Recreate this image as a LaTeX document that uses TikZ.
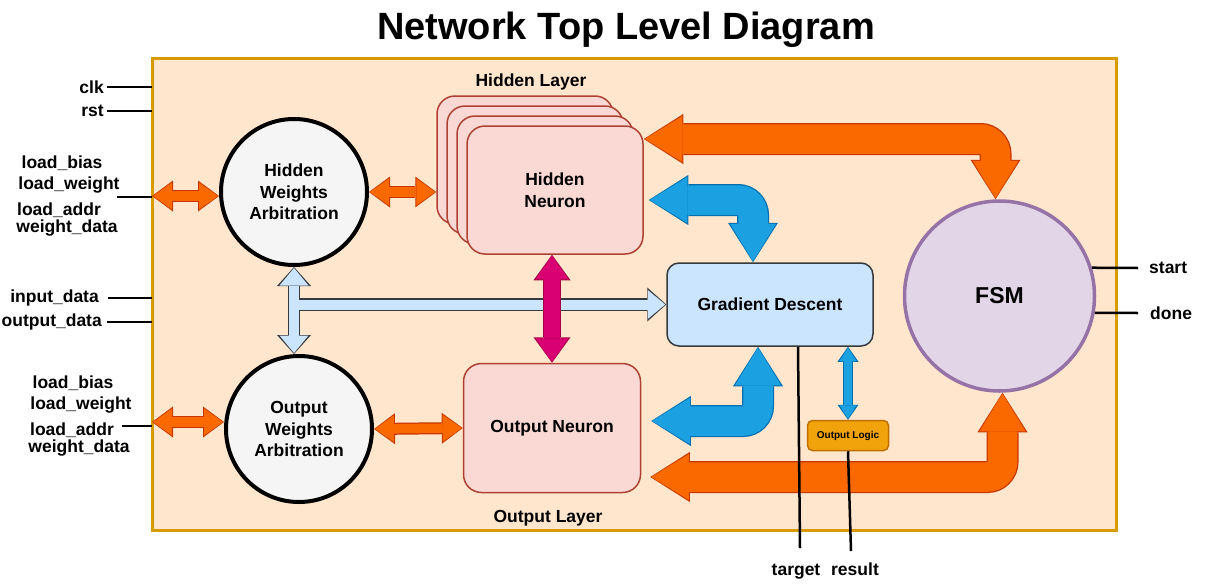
\documentclass[tikz,border=0pt]{standalone}
\usepackage{fontspec}
\setmainfont{Liberation Sans}
\usetikzlibrary{arrows.meta}

\definecolor{boxFill}{HTML}{FFE6CC}
\definecolor{boxLine}{HTML}{D79B00}
\definecolor{arbFill}{HTML}{F5F5F5}
\definecolor{neuFill}{HTML}{FAD9D5}
\definecolor{neuLine}{HTML}{AE4132}
\definecolor{gdFill}{HTML}{CCE5FF}
\definecolor{gdLine}{HTML}{36393D}
\definecolor{fsmFill}{HTML}{E1D5E7}
\definecolor{fsmLine}{HTML}{9673A6}
\definecolor{logFill}{HTML}{F0A30A}
\definecolor{logLine}{HTML}{BD7000}
\definecolor{oraFill}{HTML}{FA6800}
\definecolor{oraLine}{HTML}{C73500}
\definecolor{bluFill}{HTML}{1BA1E2}
\definecolor{bluLine}{HTML}{006EAF}
\definecolor{magFill}{HTML}{D80073}
\definecolor{magLine}{HTML}{A50040}
\definecolor{lbFill}{HTML}{CCE5FF}
\definecolor{lbLine}{HTML}{36393D}

\begin{document}
\begin{tikzpicture}[
    x=1pt, y=-1pt,
    txt/.style={font=\fontsize{17.5}{21.5}\selectfont\bfseries, inner sep=0pt},
    sig/.style={txt},
    arbit/.style={txt, circle, draw=black, line width=4pt, fill=arbFill,
        minimum size=146pt, align=center},
    neuron/.style={txt, rectangle, rounded corners=18pt, draw=neuLine,
        line width=1.5pt, fill=neuFill, minimum width=176pt,
        minimum height=128pt, align=center},
    gdbox/.style={txt, rectangle, rounded corners=12pt, draw=gdLine,
        line width=1.5pt, fill=gdFill, minimum width=206pt, minimum height=83pt},
    fsmnode/.style={circle, draw=fsmLine, line width=3.5pt, fill=fsmFill,
        minimum size=190pt, font=\fontsize{23}{27}\selectfont\bfseries},
    logic/.style={rectangle, rounded corners=5pt, draw=logLine, line width=1.5pt,
        fill=logFill, minimum width=81pt, minimum height=30pt, inner sep=0pt,
        font=\fontsize{10}{12}\selectfont\bfseries},
    mainbox/.style={rectangle, draw=boxLine, line width=3pt, fill=boxFill,
        minimum width=964pt, minimum height=472pt, outer sep=0pt},
    wire/.style={black, line width=2.5pt},
    dbl/.style n args={3}{line width=#1,
        {Triangle[length=#2, width=#3, line width=0pt]}-{Triangle[length=#2, width=#3, line width=0pt]}},
    sgl/.style n args={3}{line width=#1,
        -{Triangle[length=#2, width=#3, line width=0pt]}},
    inset/.style={shorten >=1pt, shorten <=1pt}
]
    \fill[white] (0,0) rectangle (1208,584);
    \useasboundingbox (0,0) rectangle (1208,584);

    \node[font=\fontsize{38}{44}\selectfont\bfseries, inner sep=0pt, anchor=base]
        (title) at (626,39) {Network Top Level Diagram};
    \node[mainbox] (box) at (634,294) {};

    \node[arbit] (hwa) at (294,192) {Hidden\\Weights\\Arbitration};
    \node[arbit] (owa) at (299,429) {Output\\Weights\\Arbitration};
    \foreach \k in {3,2,1}
        \node[neuron] (hn\k) at (555-10*\k, 190-10*\k) {};
    \node[neuron] (hn) at (555,190) {Hidden\\Neuron};
    \node[neuron, minimum width=177pt, minimum height=129pt] (on) at (552,428) {Output Neuron};
    \node[gdbox] (gd) at (770,304.5) {Gradient Descent};
    \node[fsmnode] (fsm) at (999.5,296) {FSM};
    \node[logic] (ol) at (848,435.5) {Output Logic};
    \node[sig, anchor=base] (hl) at (531,86) {Hidden Layer};
    \node[sig, anchor=base] (outl) at (548,522) {Output Layer};

    \node[sig, anchor=east] (clk) at (104,87) {clk};
    \node[sig, anchor=east] (rst) at (104,111) {rst};
    \node[sig, anchor=east] (inp) at (99,298) {input\_data};
    \node[sig, anchor=east] (outp) at (102,322) {output\_data};
    \node[sig] (lb1) at (62,163) {load\_bias};
    \node[sig] (lw1) at (69,185) {load\_weight};
    \node[sig] (la1) at (59,210) {load\_addr};
    \node[sig] (wd1) at (67,228) {weight\_data};
    \node[sig] (lb2) at (73,383) {load\_bias};
    \node[sig] (lw2) at (81,405) {load\_weight};
    \node[sig] (la2) at (72,430) {load\_addr};
    \node[sig] (wd2) at (79,448) {weight\_data};
    \node[sig, anchor=west] (st) at (1149,268) {start};
    \node[sig, anchor=west] (dn) at (1150,313) {done};
    \node[sig, anchor=base] (tgt) at (796,575) {target};
    \node[sig, anchor=base] (res) at (855,575) {result};

    \coordinate (hwbus) at (152,196);
    \coordinate (owbus) at (152,422);
    \coordinate (topbus) at (0,139);
    \coordinate (botbus) at (0,477);
    \coordinate (bluhi) at (0,200);
    \coordinate (blulo) at (0,421);
    \coordinate (hwsig) at (117,197);
    \coordinate (owsig) at (122,426);
    \coordinate (tgtend) at (800,548);
    \coordinate (resend) at (851,551);

    \draw[oraLine, dbl={12pt}{21pt}{31pt}] (hwbus) -- (hwbus -| hwa.west);
    \draw[oraFill, dbl={9.5pt}{19pt}{27pt}, inset] (hwbus) -- (hwbus -| hwa.west);
    \draw[oraLine, dbl={12pt}{21pt}{31pt}] (hwa.east) -- (hwa.east -| hn3.west);
    \draw[oraFill, dbl={9.5pt}{19pt}{27pt}, inset] (hwa.east) -- (hwa.east -| hn3.west);
    \draw[oraLine, dbl={12pt}{21pt}{31pt}] (owbus) -- (owbus -| owa.west);
    \draw[oraFill, dbl={9.5pt}{19pt}{27pt}, inset] (owbus) -- (owbus -| owa.west);
    \draw[oraLine, dbl={12pt}{21pt}{31pt}] (owa.east) -- (on.west);
    \draw[oraFill, dbl={9.5pt}{19pt}{27pt}, inset] (owa.east) -- (on.west);

    \draw[lbLine, dbl={12.5pt}{19pt}{34pt}] (hwa.south) -- (hwa.south |- owa.north);
    \draw[lbLine, sgl={12.5pt}{19pt}{34pt}] (hwa.south |- gd.west) -- (gd.west);
    \draw[lbFill, dbl={10pt}{17.5pt}{29pt}, inset] (hwa.south) -- (hwa.south |- owa.north);
    \draw[lbFill, sgl={10pt}{17.5pt}{29pt}, shorten >=1pt] (hwa.south |- gd.west) -- (gd.west);

    \draw[magLine, dbl={18.5pt}{25.5pt}{37pt}] (on.north |- hn.south) -- (on.north);
    \draw[magFill, dbl={16pt}{23.5pt}{33pt}, inset] (on.north |- hn.south) -- (on.north);

    \draw[oraLine, dbl={32pt}{39.5pt}{50pt}, rounded corners=15pt]
        (hn.east |- topbus) -| ([xshift=-4]fsm.north);
    \draw[oraFill, dbl={29.5pt}{37.5pt}{46pt}, rounded corners=15pt, inset]
        (hn.east |- topbus) -| ([xshift=-4]fsm.north);
    \draw[oraLine, dbl={32pt}{39.5pt}{50pt}, rounded corners=15pt]
        ([xshift=9]on.east |- botbus) -| ([xshift=3]fsm.south);
    \draw[oraFill, dbl={29.5pt}{37.5pt}{46pt}, rounded corners=15pt, inset]
        ([xshift=9]on.east |- botbus) -| ([xshift=3]fsm.south);

    \draw[bluLine, dbl={32pt}{39.5pt}{50pt}, rounded corners=15pt]
        ([xshift=5]hn.east |- bluhi) -| ([xshift=-17]gd.north);
    \draw[bluFill, dbl={29.5pt}{37.5pt}{46pt}, rounded corners=15pt, inset]
        ([xshift=5]hn.east |- bluhi) -| ([xshift=-17]gd.north);
    \draw[bluLine, dbl={32pt}{39.5pt}{50pt}, rounded corners=15pt]
        ([xshift=10]on.east |- blulo) -| ([xshift=-12]gd.south);
    \draw[bluFill, dbl={29.5pt}{37.5pt}{46pt}, rounded corners=15pt, inset]
        ([xshift=10]on.east |- blulo) -| ([xshift=-12]gd.south);
    \draw[bluLine, dbl={9.5pt}{15pt}{21pt}] (ol.north |- gd.south) -- (ol.north);
    \draw[bluFill, dbl={7.5pt}{13.5pt}{17pt}, inset] (ol.north |- gd.south) -- (ol.north);

    \draw[wire] ([xshift=3]clk.east) -- (clk.east -| box.west);
    \draw[wire] ([xshift=3]rst.east) -- (rst.east -| box.west);
    \draw[wire] ([xshift=9]inp.east) -- (inp.east -| box.west);
    \draw[wire] ([xshift=5]outp.east) -- (outp.east -| box.west);
    \draw[wire] (hwsig) -- (hwsig -| box.west);
    \draw[wire] (owsig) -- (owsig -| box.west);
    \draw[wire] (fsm.17) -- ([xshift=-11]st.west);
    \draw[wire] (fsm.-10) -- ([xshift=-12]dn.west);
    \draw[wire] ([xshift=28]gd.south) -- (tgtend);
    \draw[wire] (ol.south) -- (resend);
\end{tikzpicture}
\end{document}
